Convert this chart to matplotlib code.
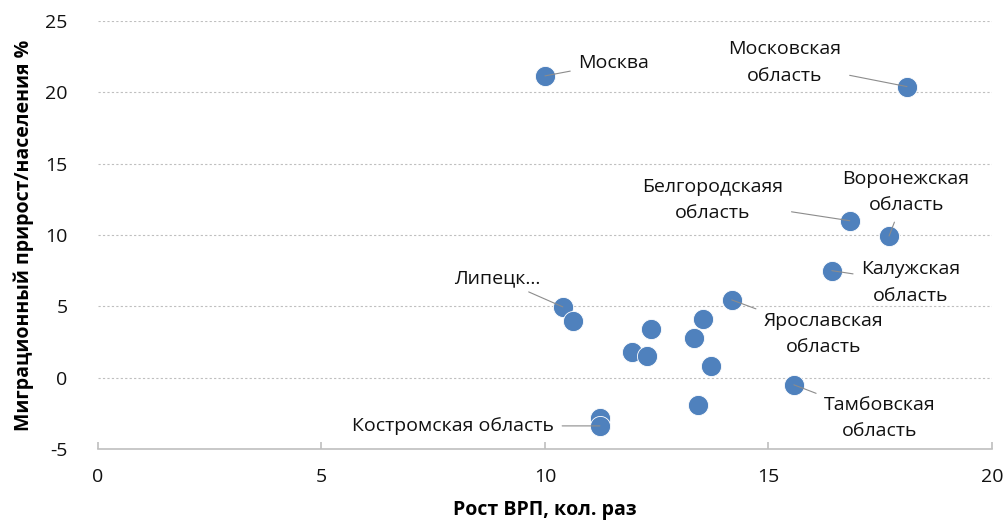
"""Scatter: GRP growth vs migration gain by region."""

import matplotlib
matplotlib.use('Agg')
from matplotlib import pyplot

# Data.
grp_growth = [10.0, 18.1, 16.82, 17.7, 16.42, 14.18, 10.4, 10.63, 12.37,
              13.53, 13.33, 11.95, 12.28, 13.71, 15.57, 13.42, 11.23, 11.23]
migration = [21.15, 20.4, 11.0, 9.93, 7.5, 5.45, 4.96, 3.98, 3.42,
             4.12, 2.79, 1.8, 1.52, 0.82, -0.5, -1.9, -2.82, -3.38]
point_labels = ['Москва', 'Московская\nобласть', 'Белгородскаяя\nобласть',
                'Воронежская\nобласть', 'Калужская\nобласть',
                'Ярославская\nобласть', 'Липецк…', '', '', '', '', '', '',
                '', 'Тамбовская\nобласть', '', '', 'Костромская область']
# Label offsets from the point, in pixels.
label_offsets = {0: (69, 13), 1: (-122, 24), 2: (-137, 21), 3: (17, 44),
                 4: (79, -12), 5: (92, -34), 6: (-66, 29), 14: (86, -33),
                 17: (-147, 0)}

pyplot.rcParams['font.family'] = ['Open Sans', 'DejaVu Sans']
pyplot.rcParams['axes.unicode_minus'] = False
fig = pyplot.figure(figsize=(10.08, 5.24), dpi=100)
ax = fig.add_axes([0.0972, 0.1431, 0.8868, 0.8169])

ax.scatter(grp_growth, migration, s=210, color='#4F81BD',
           edgecolor='white', linewidth=0.6, zorder=3)

for i, (dx, dy) in label_offsets.items():
    ax.annotate(point_labels[i], xy=(grp_growth[i], migration[i]),
                xytext=(dx, dy), textcoords='offset pixels',
                ha='center', va='center', fontsize=14, color='#111111',
                linespacing=1.6, zorder=4,
                arrowprops=dict(arrowstyle='-', color='#8c8c8c', lw=0.8,
                                shrinkA=4, shrinkB=0))

ax.set_xlim(0, 20)
ax.set_ylim(-5, 25)
ax.set_xticks(range(0, 21, 5))
ax.set_yticks(range(-5, 26, 5))
ax.grid(axis='y', color='#bfbfbf', linestyle=(0, (2, 2)), linewidth=0.8)
ax.set_axisbelow(True)
for side in ['left', 'right', 'top']:
    ax.spines[side].set_visible(False)
ax.spines['bottom'].set_color('#bfbfbf')
ax.spines['bottom'].set_linewidth(1.2)
ax.tick_params(axis='x', direction='in', length=5, color='#bfbfbf',
               width=1.2, pad=14, labelsize=14, labelcolor='#111111')
ax.tick_params(axis='y', length=0, pad=22, labelsize=14,
               labelcolor='#111111')

ax.set_xlabel('Рост ВРП, кол. раз', fontsize=14, fontweight='bold',
              labelpad=10)
ax.set_ylabel('Миграционный прирост/населения %', fontsize=14,
              fontweight='bold', labelpad=8)

fig.savefig('out.png', dpi=100)
